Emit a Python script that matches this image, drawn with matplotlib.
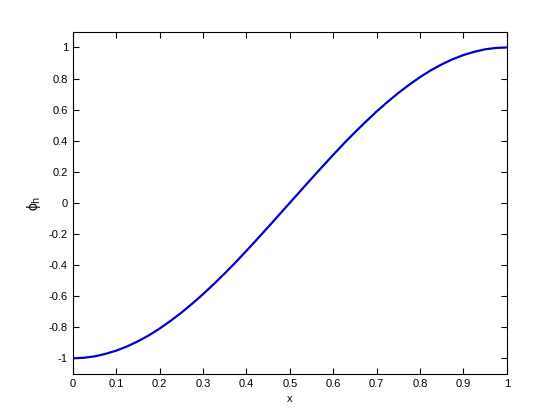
import numpy as np
import matplotlib
matplotlib.use("Agg")
import matplotlib.pyplot as plt

plt.rcParams['font.family'] = ['Liberation Sans', 'DejaVu Sans']

# values
x = [0.0, 0.025, 0.05, 0.075, 0.1, 0.125, 0.15, 0.175, 0.2, 0.225, 0.25,
     0.275, 0.3, 0.325, 0.35, 0.375, 0.4, 0.425, 0.45, 0.475, 0.5,
     0.525, 0.55, 0.575, 0.6, 0.625, 0.65, 0.675, 0.7, 0.725, 0.75,
     0.775, 0.8, 0.825, 0.85, 0.875, 0.9, 0.925, 0.95, 0.975, 1.0]
phi_h = [-1.0, -0.997, -0.988, -0.972, -0.951, -0.924, -0.891, -0.853, -0.809, -0.760, -0.707,
         -0.649, -0.588, -0.522, -0.454, -0.383, -0.309, -0.233, -0.156, -0.078, 0.0,
         0.078, 0.156, 0.233, 0.309, 0.383, 0.454, 0.522, 0.588, 0.649, 0.707,
         0.760, 0.809, 0.853, 0.891, 0.924, 0.951, 0.972, 0.988, 0.997, 1.0]

xticks = [0, 0.1, 0.2, 0.3, 0.4, 0.5, 0.6, 0.7, 0.8, 0.9, 1]
xticklabels = ['0', '0.1', '0.2', '0.3', '0.4', '0.5', '0.6', '0.7', '0.8', '0.9', '1']
yticks = [-1, -0.8, -0.6, -0.4, -0.2, 0, 0.2, 0.4, 0.6, 0.8, 1]
yticklabels = ['-1', '-0.8', '-0.6', '-0.4', '-0.2', '0', '0.2', '0.4', '0.6', '0.8', '1']

fig = plt.figure(figsize=(5.6, 4.2), dpi=100)
ax = fig.add_axes([0.130, 0.110, 0.775, 0.814])
ax.plot(x, phi_h, color='#0000cc', linewidth=1.6)

ax.set_xlim(0, 1)
ax.set_ylim(-1.1, 1.1)
ax.set_xticks(xticks)
ax.set_xticklabels(xticklabels)
ax.set_yticks(yticks)
ax.set_yticklabels(yticklabels)
ax.tick_params(direction='in', top=True, right=True, labelsize=8, length=4, width=0.8)
for s in ax.spines.values():
    s.set_linewidth(0.8)

ax.set_xlabel('x', fontsize=8)
ax.set_ylabel('ϕ$_\\mathrm{h}$', fontsize=10)

fig.savefig('out.png', dpi=100)
